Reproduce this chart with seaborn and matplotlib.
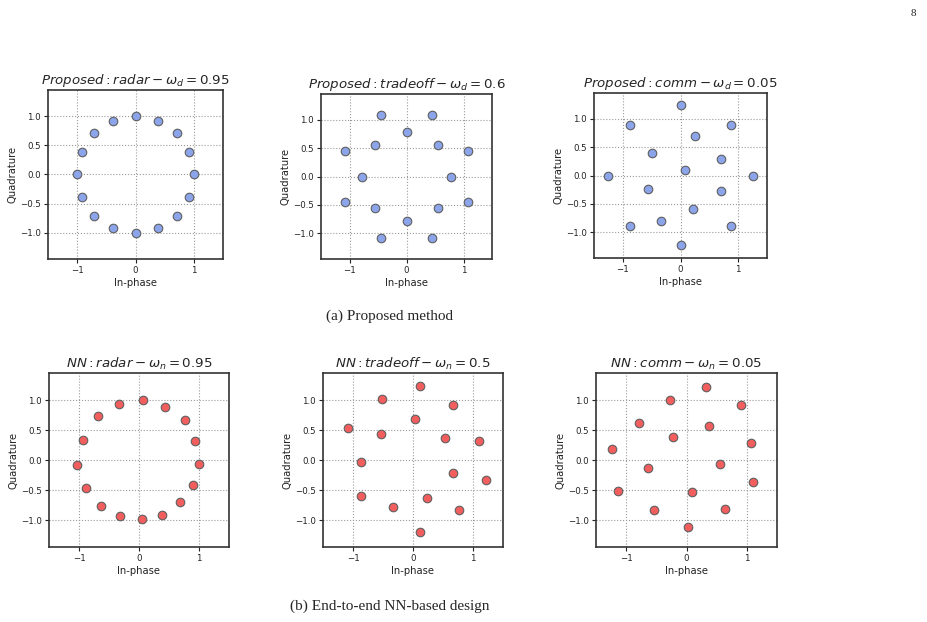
import numpy as np
import pandas as pd
import matplotlib
matplotlib.use("Agg")
import matplotlib.pyplot as plt
import seaborn as sns

# ---- data ----
prop_radar_i = [1.00, 0.92, 0.71, 0.38, 0.00, -0.38, -0.71, -0.92, -1.00, -0.92, -0.71, -0.38, 0.00, 0.38, 0.71, 0.92]
prop_radar_q = [0.00, 0.38, 0.71, 0.92, 1.00, 0.92, 0.71, 0.38, 0.00, -0.38, -0.71, -0.92, -1.00, -0.92, -0.71, -0.38]

prop_trade_i = [-0.45, 0.45, 0.00, -0.55, 0.55, -1.08, 1.08, -0.78, 0.78, -1.08, 1.08, -0.55, 0.55, 0.00, -0.45, 0.45]
prop_trade_q = [1.08, 1.08, 0.78, 0.55, 0.55, 0.45, 0.45, 0.00, 0.00, -0.45, -0.45, -0.55, -0.55, -0.78, -1.08, -1.08]

prop_comm_i = [0.00, -0.88, 0.88, 0.25, -0.49, 0.70, -1.25, 1.25, 0.08, -0.57, 0.70, 0.21, -0.33, -0.88, 0.88, 0.00]
prop_comm_q = [1.24, 0.88, 0.88, 0.70, 0.40, 0.29, 0.00, 0.00, 0.09, -0.24, -0.28, -0.58, -0.80, -0.88, -0.88, -1.23]

nn_radar_i = [0.07, 0.44, 0.76, 0.94, 1.00, 0.90, 0.68, 0.39, 0.05, -0.31, -0.64, -0.88, -1.03, -0.94, -0.69, -0.34]
nn_radar_q = [1.00, 0.88, 0.66, 0.31, -0.06, -0.41, -0.70, -0.91, -0.98, -0.93, -0.77, -0.46, -0.08, 0.34, 0.74, 0.94]

nn_trade_i = [0.11, -0.51, 0.66, 0.04, -1.08, -0.53, 0.54, 1.10, -0.87, 0.67, 1.21, -0.86, 0.23, -0.34, 0.77, 0.12]
nn_trade_q = [1.24, 1.01, 0.91, 0.69, 0.54, 0.44, 0.37, 0.32, -0.04, -0.21, -0.33, -0.60, -0.64, -0.79, -0.83, -1.20]

nn_comm_i = [0.32, -0.27, 0.91, -0.78, 0.38, -0.22, -1.23, 1.07, -0.64, 0.56, 1.10, -1.13, 0.09, -0.54, 0.64, 0.03]
nn_comm_q = [1.22, 1.00, 0.91, 0.61, 0.57, 0.38, 0.18, 0.29, -0.13, -0.07, -0.37, -0.52, -0.53, -0.83, -0.82, -1.11]

titles = [r"$Proposed: radar-\omega_d=0.95$",
          r"$Proposed: tradeoff-\omega_d=0.6$",
          r"$Proposed: comm-\omega_d=0.05$",
          r"$NN: radar-\omega_n=0.95$",
          r"$NN: tradeoff-\omega_n=0.5$",
          r"$NN: comm-\omega_n=0.05$"]
captions = ["(a) Proposed method", "(b) End-to-end NN-based design"]
page_number = "8"

series = [(prop_radar_i, prop_radar_q), (prop_trade_i, prop_trade_q), (prop_comm_i, prop_comm_q),
          (nn_radar_i, nn_radar_q), (nn_trade_i, nn_trade_q), (nn_comm_i, nn_comm_q)]

sns.set_style("ticks")
plt.rcParams["font.family"] = ["DejaVu Sans"]

W, H = 927, 622
fig = plt.figure(figsize=(W / 100, H / 100), dpi=100)

# axes boxes in pixels: left, right, top, bottom
boxes = [(48, 223, 90, 259), (321, 492, 94, 259), (594, 767, 93, 258),
         (49, 229, 373, 547), (323, 503, 373, 547), (596, 777, 373, 547)]

blue = "#8ca5ea"
red = "#f25e5e"

for k, ((xi, yq), (l, r, t, b)) in enumerate(zip(series, boxes)):
    ax = fig.add_axes([l / W, (H - b) / H, (r - l) / W, (b - t) / H])
    df = pd.DataFrame({"I": xi, "Q": yq})
    sns.scatterplot(data=df, x="I", y="Q", ax=ax, s=38,
                    color=blue if k < 3 else red,
                    edgecolor="#5f5f5f", linewidth=0.8, zorder=3)
    ax.set_xlim(-1.5, 1.5)
    ax.set_ylim(-1.45, 1.45)
    ax.set_xticks([-1, 0, 1])
    ax.set_yticks([-1.0, -0.5, 0.0, 0.5, 1.0])
    ax.set_yticklabels(["\u22121.0", "\u22120.5", "0.0", "0.5", "1.0"])
    ax.set_xticklabels(["\u22121", "0", "1"])
    ax.grid(True, linestyle=":", color="#9a9a9a", linewidth=0.8, zorder=0)
    ax.set_axisbelow(True)
    ax.tick_params(labelsize=6.2, length=3, width=0.8, colors="#222222", pad=2)
    for sp in ax.spines.values():
        sp.set_color("#333333")
        sp.set_linewidth(1.2)
    ax.set_xlabel("In-phase", fontsize=7.2, labelpad=2, color="#222222")
    ax.set_ylabel("Quadrature", fontsize=7.2, labelpad=2, color="#222222")
    ax.set_title(titles[k], fontsize=9.6, pad=4)

fig.text(390 / W, 1 - 316 / H, captions[0], ha="center", va="center",
         fontsize=11, family="Liberation Serif")
fig.text(390 / W, 1 - 606 / H, captions[1], ha="center", va="center",
         fontsize=11, family="Liberation Serif")
fig.text(913 / W, 1 - 13 / H, page_number, ha="center", va="center",
         fontsize=8, family="Liberation Serif")

fig.savefig("out.png", dpi=100)
